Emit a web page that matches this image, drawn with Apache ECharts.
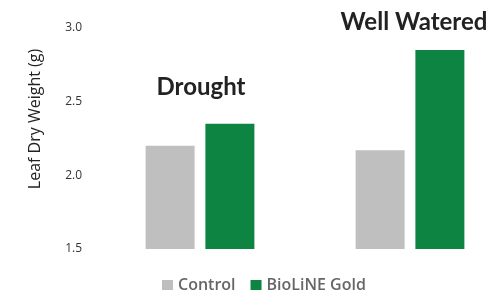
<!DOCTYPE html>
<html>
<head>
<meta charset="utf-8">
<script src="https://cdn.jsdelivr.net/npm/echarts@6/dist/echarts.min.js"></script>
<style>
  html, body { margin: 0; padding: 0; background: #fff; }
  #chart { width: 492px; height: 290px; }
</style>
</head>
<body>
<div id="chart"></div>
<script>
// data
const groups = ['Drought', 'Well Watered'];
const controlValues = [2.2, 2.17];
const biolineValues = [2.35, 2.85];
const yTicks = [1.5, 2.0, 2.5, 3.0];

const chart = echarts.init(document.getElementById('chart'));
chart.setOption({
    animation: false,
    grid: {
        left: 95,
        width: 420,
        top: 28,
        bottom: 41,
        outerBoundsMode: 'none'
    },
    legend: {
        data: ['Control', 'BioLiNE Gold'],
        left: 157,
        top: 272,
        itemWidth: 11,
        itemHeight: 10,
        itemGap: 15,
        icon: 'rect',
        textStyle: {
            fontFamily: 'Open Sans',
            fontSize: 16,
            fontWeight: 600,
            color: '#666'
        }
    },
    xAxis: {
        type: 'category',
        data: groups,
        axisLine: { show: false },
        axisTick: { show: false },
        axisLabel: { show: false }
    },
    yAxis: {
        type: 'value',
        min: yTicks[0],
        max: yTicks[yTicks.length - 1],
        interval: 0.5,
        axisLine: { show: false },
        axisTick: { show: false },
        splitLine: { show: false },
        axisLabel: {
            margin: 13,
            fontFamily: 'Open Sans',
            fontSize: 12,
            color: '#333',
            formatter: v => v.toFixed(1)
        }
    },
    graphic: [
        {
            type: 'text',
            x: 35,
            y: 119,
            rotation: Math.PI / 2,
            style: {
                text: 'Leaf Dry Weight (g)',
                fontFamily: 'Open Sans',
                fontSize: 16,
                fill: '#222',
                align: 'center',
                verticalAlign: 'middle'
            }
        },
        {
            type: 'text',
            x: 201,
            y: 87,
            style: {
                text: groups[0],
                fontFamily: 'Lato',
                fontSize: 24,
                fontWeight: 'bold',
                fill: '#222',
                align: 'center',
                verticalAlign: 'middle'
            }
        },
        {
            type: 'text',
            x: 414,
            y: 22,
            style: {
                text: groups[1],
                fontFamily: 'Lato',
                fontSize: 24,
                fontWeight: 'bold',
                fill: '#222',
                align: 'center',
                verticalAlign: 'middle'
            }
        }
    ],
    series: [
        {
            name: 'Control',
            type: 'bar',
            data: controlValues,
            barWidth: 49,
            barGap: '22%',
            itemStyle: { color: '#bfbfbf' }
        },
        {
            name: 'BioLiNE Gold',
            type: 'bar',
            data: biolineValues,
            barWidth: 49,
            itemStyle: { color: '#0e8442' }
        }
    ]
});
</script>
</body>
</html>
